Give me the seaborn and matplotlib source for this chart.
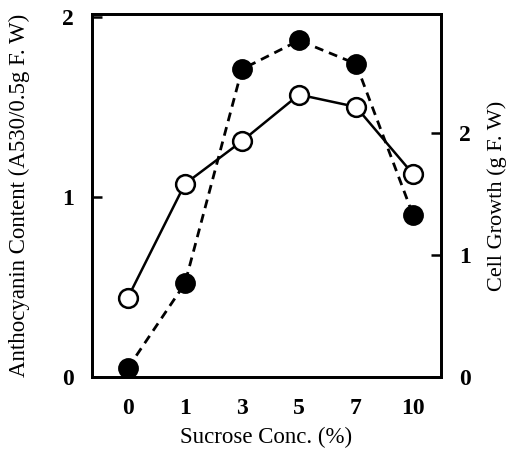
import matplotlib
matplotlib.use("Agg")
import matplotlib.pyplot as plt
import seaborn as sns
import pandas as pd

# Data
sucrose_conc = ["0", "1", "3", "5", "7", "10"]
anthocyanin = [0.05, 0.52, 1.71, 1.87, 1.74, 0.90]   # left axis, filled circles, dashed
cell_growth = [0.65, 1.58, 1.93, 2.31, 2.21, 1.66]   # right axis, open circles, solid

left_ticks = [0, 1, 2]
right_ticks = [0, 1, 2]

sns.set_theme(style="white")
plt.rcParams["font.family"] = ["Liberation Serif", "DejaVu Serif"]

df = pd.DataFrame({"conc": sucrose_conc, "antho": anthocyanin, "growth": cell_growth})

fig = plt.figure(figsize=(5.11, 4.5), dpi=100)
ax = fig.add_axes([0.180, 0.162, 0.683, 0.807])
ax2 = ax.twinx()

sns.lineplot(data=df, x="conc", y="antho", ax=ax, color="black", linewidth=2.0,
             linestyle=(0, (3.2, 2.2)), marker="o", markersize=13.5,
             markerfacecolor="black", markeredgecolor="black", markeredgewidth=1.5,
             sort=False)
sns.lineplot(data=df, x="conc", y="growth", ax=ax2, color="black", linewidth=1.8,
             marker="o", markersize=13.5, markerfacecolor="white",
             markeredgecolor="black", markeredgewidth=1.8, sort=False)

ax.set_xlim(-0.63, 5.49)
ax.set_ylim(0, 2.017)
ax2.set_ylim(0, 2.97)

ax.set_yticks(left_ticks)
ax.set_yticklabels([str(t) for t in left_ticks])
ax2.set_yticks(right_ticks)
ax2.set_yticklabels([str(t) for t in right_ticks])
ax.set_xticks(range(len(sucrose_conc)))
ax.set_xticklabels(sucrose_conc)

for a in (ax, ax2):
    for s in a.spines.values():
        s.set_color("black")
        s.set_linewidth(2.0)
    a.grid(False)

ax.tick_params(axis="both", direction="in", length=7, width=1.8, color="black",
               labelsize=17, labelcolor="black")
ax.tick_params(axis="x", pad=15)
ax.tick_params(axis="y", pad=13)
ax2.tick_params(axis="y", direction="in", length=7, width=1.8, color="black",
                labelsize=17, labelcolor="black", pad=13)
for lab in ax.get_xticklabels() + ax.get_yticklabels() + ax2.get_yticklabels():
    lab.set_fontweight("bold")

ax.set_xlabel("Sucrose Conc. (%)", fontsize=16.5, color="black", labelpad=6)
ax.set_ylabel("Anthocyanin Content (A530/0.5g F. W)", fontsize=16.5, color="black", labelpad=23)
ax2.set_ylabel("Cell Growth (g F. W)", fontsize=16, color="black", labelpad=12)

fig.savefig("out.png", dpi=100)
